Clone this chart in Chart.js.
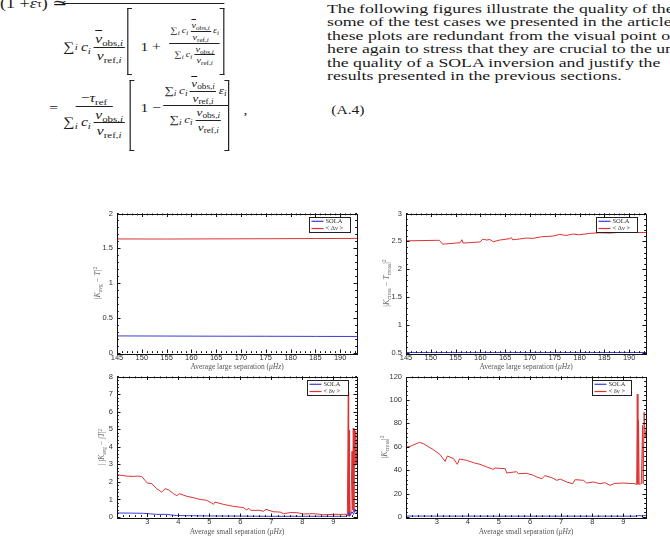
<!DOCTYPE html>
<html><head><meta charset="utf-8">
<script src="https://cdn.jsdelivr.net/npm/chart.js@4.4.1/dist/chart.umd.min.js"></script>
<style>
html,body{margin:0;padding:0;background:#fff;}
body{width:670px;height:545px;position:relative;overflow:hidden;font-family:"Liberation Serif","DejaVu Serif",serif;color:#1a1a1a;}
#eqn{position:absolute;left:0;top:0;width:300px;height:160px;transform:scaleX(1.2);transform-origin:0 0;}
.pc{position:absolute;display:flex;align-items:center;white-space:nowrap;font-size:13px;line-height:1.05;}
.bar{position:absolute;height:0;border-top:1px solid #222;}
.lb,.rb{position:absolute;width:4px;border-top:1px solid #222;border-bottom:1px solid #222;box-sizing:border-box;}
.lb{border-left:1px solid #222;}
.rb{border-right:1px solid #222;}
.ifr{display:inline-flex;flex-direction:column;align-items:center;vertical-align:middle;line-height:1.05;}
.ifr>.n{border-bottom:1px solid #222;padding:0 1px 1px;}
.ifr>.d{padding-top:1px;}
.nb{text-decoration:overline;}
sub{font-size:0.7em;vertical-align:-0.3em;line-height:0;}
sup{font-size:0.7em;vertical-align:0.5em;line-height:0;}
.txt{position:absolute;left:327px;top:3px;font-size:12.5px;line-height:13.4px;white-space:nowrap;transform:scaleX(1.42);transform-origin:0 0;}
canvas{position:absolute;}
.xt{position:absolute;font-size:7.5px;color:#555;white-space:nowrap;transform:translate(-50%,-50%);line-height:1;}
.yt{position:absolute;font-size:8px;color:#666;white-space:nowrap;transform:translate(-50%,-50%) rotate(-90deg);line-height:1;}
</style></head>
<body>
<div id="eqn">
  <!-- row 1 -->
  <div class="pc" style="left:0;top:-4px;font-size:15px">(1 + <i>ε</i><sub>τ</sub>) ≃</div>
  <div class="bar" style="left:52px;top:3px;width:135px"></div>
  <div class="pc" style="left:53px;top:27px;height:40px">∑<sub><i>i</i></sub>&thinsp;<i>c<sub>i</sub></i>&thinsp;<span class="ifr"><span class="n"><span class="nb"><i>ν</i></span><sub>obs,<i>i</i></sub></span><span class="d"><i>ν</i><sub>ref,<i>i</i></sub></span></span></div>
  <div class="lb" style="left:106px;top:8px;height:67px"></div>
  <div class="pc" style="left:117px;top:27px;height:40px">1 +</div>
  <div class="pc" style="left:141px;top:8px;height:70px;font-size:8.5px"><span class="ifr"><span class="n">∑<sub><i>i</i></sub>&thinsp;<i>c<sub>i</sub></i>&thinsp;<span class="ifr"><span class="n"><span class="nb"><i>ν</i></span><sub>obs,<i>i</i></sub></span><span class="d"><i>ν</i><sub>ref,<i>i</i></sub></span></span>&thinsp;<i>ε<sub>i</sub></i></span><span class="d">∑<sub><i>i</i></sub>&thinsp;<i>c<sub>i</sub></i>&thinsp;<span class="ifr"><span class="n"><span class="nb"><i>ν</i></span><sub>obs,<i>i</i></sub></span><span class="d"><i>ν</i><sub>ref,<i>i</i></sub></span></span></span></span></div>
  <div class="rb" style="left:183px;top:8px;height:67px"></div>
  <!-- row 2 -->
  <div class="pc" style="left:41px;top:98px;height:20px">=</div>
  <div class="pc" style="left:53px;top:91px"><span class="ifr"><span class="n">&nbsp;−<i>τ</i><sub>ref</sub>&nbsp;</span><span class="d">∑<sub><i>i</i></sub>&thinsp;<i>c<sub>i</sub></i>&thinsp;<span class="ifr"><span class="n"><span class="nb"><i>ν</i></span><sub>obs,<i>i</i></sub></span><span class="d"><i>ν</i><sub>ref,<i>i</i></sub></span></span></span></span></div>
  <div class="lb" style="left:108px;top:80px;height:71px"></div>
  <div class="pc" style="left:117px;top:98px;height:20px">1 −</div>
  <div class="pc" style="left:136px;top:78px;font-size:11px"><span class="ifr"><span class="n">∑<sub><i>i</i></sub>&thinsp;<i>c<sub>i</sub></i>&thinsp;<span class="ifr"><span class="n"><span class="nb"><i>ν</i></span><sub>obs,<i>i</i></sub></span><span class="d"><i>ν</i><sub>ref,<i>i</i></sub></span></span>&thinsp;<i>ε<sub>i</sub></i></span><span class="d">∑<sub><i>i</i></sub>&thinsp;<i>c<sub>i</sub></i>&thinsp;<span class="ifr"><span class="n"><span class="nb"><i>ν</i></span><sub>obs,<i>i</i></sub></span><span class="d"><i>ν</i><sub>ref,<i>i</i></sub></span></span></span></span></div>
  <div class="rb" style="left:187px;top:80px;height:71px"></div>
  <div class="pc" style="left:203px;top:100px;height:20px">,</div>
  <div class="pc" style="left:276px;top:100px;height:20px">(A.4)</div>
</div>
<div class="txt">The following figures illustrate the quality of the kernels<br>some of the test cases we presented in the article<br>these plots are redundant from the visual point of view<br>here again to stress that they are crucial to the understanding<br>the quality of a SOLA inversion and justify the<br>results presented in the previous sections.</div>

<canvas id="c1" width="300" height="160" style="left:67px;top:205px"></canvas>
<canvas id="c2" width="300" height="160" style="left:356px;top:205px"></canvas>
<canvas id="c3" width="300" height="161" style="left:67px;top:368px"></canvas>
<canvas id="c4" width="300" height="161" style="left:356px;top:368px"></canvas>

<div class="xt" style="left:237px;top:367px">Average large separation (<i>μHz</i>)</div>
<div class="xt" style="left:526px;top:367px">Average large separation (<i>μHz</i>)</div>
<div class="xt" style="left:237px;top:532px">Average small separation (<i>μHz</i>)</div>
<div class="xt" style="left:526px;top:532px">Average small separation (<i>μHz</i>)</div>
<div class="yt" style="left:98px;top:283px">|<i>K</i><sub>avg</sub> − <i>T</i>|<sup>2</sup></div>
<div class="yt" style="left:387px;top:283px">|<i>K</i><sub>cross</sub> − <i>T</i><sub>cross</sub>|<sup>2</sup></div>
<div class="yt" style="left:102px;top:447px;font-size:7.5px">| ∫<i>K</i><sub>avg</sub> − ∫<i>T</i>|<sup>2</sup></div>
<div class="yt" style="left:385px;top:447px">|<i>K</i><sub>cross</sub>|<sup>2</sup></div>

<script>
// ---------- tick labels ----------
const largeSepTicks = [145,150,155,160,165,170,175,180,185,190];
const smallSepTicks = [3,4,5,6,7,8,9];
const tlYTicks = [0,0.5,1,1.5,2];
const trYTicks = [0.5,1,1.5,2,2.5,3];
const blYTicks = [0,1,2,3,4,5,6,7,8];
const brYTicks = [0,20,40,60,80,100,120];
const namesLarge = ['SOLA','< Δν >'];
const namesSmall = ['SOLA','< δν >'];

// ---------- top-left ----------
const tlX    = [145,155,165,175,185,193.4];
const tlSola = [0.245,0.243,0.241,0.240,0.238,0.237];
const tlDnu  = [1.635,1.634,1.636,1.638,1.641,1.643];

// ---------- top-right ----------
const trSolaX = [145,160,175,193.4];
const trSola  = [0.508,0.508,0.509,0.509];
const trDnuX = [145,151.7,152.4,155.9,156.3,156.5,159.9,160.5,161.3,161.9,162.6,163.9,165.9,166.3,166.5,167.3,169.3,170.6,172.3,174.6,176,177.3,178.7,180,182,184,186,188,190.7,193.4];
const trDnu  = [2.51,2.52,2.45,2.476,2.53,2.47,2.49,2.54,2.524,2.536,2.494,2.524,2.548,2.565,2.53,2.536,2.56,2.554,2.583,2.595,2.625,2.607,2.631,2.619,2.643,2.655,2.649,2.661,2.66,2.66];

// ---------- bottom-left ----------
const blSolaX = [2.01,2.5,2.87,3.1,3.3,3.62,3.95,4.5,5.0,6.0,7.0,8.0,9.0,9.43,9.5,9.52,9.6,9.65,9.7,9.75];
const blSola  = [0.23,0.22,0.21,0.18,0.15,0.15,0.08,0.07,0.06,0.05,0.04,0.04,0.04,0.04,0.25,0.04,0.3,0.15,0.45,0.2];
const blDnuX = [2.01,2.33,2.55,2.7,2.82,2.92,3.0,3.14,3.3,3.46,3.57,3.68,3.84,3.95,4.03,4.27,4.48,4.7,4.91,5.07,5.13,5.18,5.45,5.77,6.1,6.2,6.27,6.33,6.63,6.74,6.82,7.06,7.28,7.39,7.6,7.82,8.03,8.35,8.68,9.0,9.32,9.45,9.48,9.49,9.51,9.52,9.56,9.6,9.62,9.64,9.66,9.68,9.7,9.72,9.75];
const blDnu  = [2.41,2.33,2.31,2.33,2.31,2.09,1.93,1.9,1.61,1.42,1.61,1.55,1.33,1.21,1.33,1.18,1.1,1.0,0.95,0.8,0.72,0.85,0.72,0.61,0.53,0.4,0.5,0.38,0.38,0.32,0.44,0.3,0.28,0.19,0.25,0.25,0.17,0.19,0.13,0.15,0.15,0.15,7.1,0.05,4.95,0.05,0.15,3.75,0.4,5.05,0.3,5.0,2.95,4.9,3.0];

// ---------- bottom-right ----------
const brSolaX = [2.01,5,9.4,9.5,9.6,9.75];
const brSola  = [0.8,0.7,0.7,1.2,0.9,1.5];
const brDnuX = [2.01,2.14,2.44,2.57,2.89,3.1,3.27,3.34,3.54,3.66,3.73,3.96,4.18,4.39,4.61,4.82,4.88,5.2,5.25,5.57,5.63,5.89,6.11,6.22,6.38,6.48,6.7,6.86,6.97,7.18,7.37,7.45,7.72,7.82,8.04,8.25,8.41,8.57,8.73,9.0,9.38,9.43,9.45,9.47,9.49,9.51,9.58,9.62,9.64,9.67,9.7,9.73];
const brDnu  = [59.7,60.3,63.7,62.6,57.5,53.5,47.5,52.1,49.8,45.0,49.5,48.4,46.4,45.0,42.7,40.7,41.8,41.3,37.6,38.7,37.0,37.3,35.6,34.1,32.7,35.3,33.6,31.3,32.4,29.9,28.4,31.9,31.3,29.0,29.9,28.4,29.3,27.0,28.7,29.0,28.4,27.6,105,28,82.5,27.9,28.4,78.2,28.5,89.6,68.3,74];

const BLUE = '#3b3bd6';
const RED  = '#dd3333';

function pts(xs, ys){ return xs.map((x,i)=>({x:x, y:ys[i]})); }

const frameTicks = {
  id:'frameTicks',
  afterDatasetsDraw(chart){
    const o = chart.options.plugins.frameTicks;
    const ctx = chart.ctx;
    const {left,right,top,bottom} = chart.chartArea;
    const xs = chart.scales.x, ys = chart.scales.y;
    ctx.save();
    ctx.strokeStyle = '#111';
    ctx.lineWidth = 1;
    ctx.beginPath();
    for (let v = o.xMinorStart; v <= xs.max + 1e-9; v += o.xMinor) {
      const p = Math.round(xs.getPixelForValue(v)) + 0.5;
      ctx.moveTo(p, bottom); ctx.lineTo(p, bottom - 1.8);
      ctx.moveTo(p, top); ctx.lineTo(p, top + 1.8);
    }
    for (let v = ys.min; v <= ys.max + 1e-9; v += o.yMinor) {
      const p = Math.round(ys.getPixelForValue(v)) + 0.5;
      ctx.moveTo(left, p); ctx.lineTo(left + 1.8, p);
      ctx.moveTo(right, p); ctx.lineTo(right - 1.8, p);
    }
    o.xTicks.forEach(v => {
      const p = Math.round(xs.getPixelForValue(v)) + 0.5;
      ctx.moveTo(p, bottom); ctx.lineTo(p, bottom - 3.5);
      ctx.moveTo(p, top); ctx.lineTo(p, top + 3.5);
    });
    o.yTicks.forEach(v => {
      const p = Math.round(ys.getPixelForValue(v)) + 0.5;
      ctx.moveTo(left, p); ctx.lineTo(left + 3.5, p);
      ctx.moveTo(right, p); ctx.lineTo(right - 3.5, p);
    });
    ctx.stroke();
    ctx.strokeRect(Math.round(left) + 0.5, Math.round(top) + 0.5, Math.round(right - left), Math.round(bottom - top));
    // legend
    const bw = o.legW, bh = 15;
    const bx = Math.round(right - o.legRight - bw) + 0.5;
    const by = Math.round(top + 3) + 0.5;
    ctx.fillStyle = '#fff';
    ctx.fillRect(bx, by, bw, bh);
    ctx.strokeStyle = '#222';
    ctx.strokeRect(bx, by, bw, bh);
    ctx.font = '6.5px "Liberation Serif", serif';
    ctx.textBaseline = 'middle';
    chart.data.datasets.forEach((ds, i) => {
      const yy = by + 3.8 + i * 7.2;
      ctx.strokeStyle = ds.borderColor;
      ctx.lineWidth = 1.2;
      ctx.beginPath(); ctx.moveTo(bx + 2, yy); ctx.lineTo(bx + 14, yy); ctx.stroke();
      ctx.fillStyle = '#333';
      ctx.fillText(ds.label, bx + 16, yy);
    });
    ctx.restore();
  }
};

function build(id, c){
  return new Chart(document.getElementById(id), {
    type:'line',
    data:{datasets:[
      {label:c.names[0], data:pts(c.solaX, c.sola), borderColor:BLUE, borderWidth:1, pointRadius:0, tension:0, fill:false},
      {label:c.names[1], data:pts(c.dnuX, c.dnu), borderColor:RED, borderWidth:1, pointRadius:0, tension:0, fill:false}
    ]},
    options:{
      responsive:false, animation:false, events:[],
      layout:{padding:{top:8, right:10, left:0, bottom:0}},
      plugins:{
        legend:{display:false}, tooltip:{enabled:false},
        frameTicks:{xTicks:c.xTicks, yTicks:c.yTicks, xMinor:c.xMinor, xMinorStart:c.xMinorStart, yMinor:c.yMinor, legW:c.legW, legRight:c.legRight}
      },
      scales:{
        x:{type:'linear', min:c.xMin, max:c.xMax,
           grid:{display:false, drawTicks:false}, border:{display:false},
           ticks:{padding:0.5, color:'#333', font:{family:'"Liberation Sans", Arial, sans-serif', size:7.5}, maxRotation:0, autoSkip:false, callback:v => String(v)},
           afterBuildTicks(s){ s.ticks = c.xTicks.map(v => ({value:v})); },
           afterFit(s){ s.height = c.xh; }},
        y:{type:'linear', min:c.yMin, max:c.yMax,
           grid:{display:false, drawTicks:false}, border:{display:false},
           ticks:{padding:4, color:'#333', font:{family:'"Liberation Sans", Arial, sans-serif', size:7.5}, autoSkip:false, callback:v => String(v)},
           afterBuildTicks(s){ s.ticks = c.yTicks.map(v => ({value:v})); },
           afterFit(s){ s.width = 50; }}
      }
    },
    plugins:[frameTicks]
  });
}

build('c1', {names:namesLarge, solaX:tlX, sola:tlSola, dnuX:tlX, dnu:tlDnu,
  xMin:145, xMax:193.4, yMin:0, yMax:2, xTicks:largeSepTicks, yTicks:tlYTicks,
  xMinor:1, xMinorStart:145, yMinor:0.1, legW:41, legRight:7, xh:12});
build('c2', {names:namesLarge, solaX:trSolaX, sola:trSola, dnuX:trDnuX, dnu:trDnu,
  xMin:145, xMax:193.4, yMin:0.5, yMax:3, xTicks:largeSepTicks, yTicks:trYTicks,
  xMinor:1, xMinorStart:145, yMinor:0.1, legW:41, legRight:9, xh:12});
build('c3', {names:namesSmall, solaX:blSolaX, sola:blSola, dnuX:blDnuX, dnu:blDnu,
  xMin:2.02, xMax:9.76, yMin:0, yMax:8, xTicks:smallSepTicks, yTicks:blYTicks,
  xMinor:0.2, xMinorStart:2.2, yMinor:0.2, legW:41, legRight:9, xh:12});
build('c4', {names:namesSmall, solaX:brSolaX, sola:brSola, dnuX:brDnuX, dnu:brDnu,
  xMin:2.01, xMax:9.73, yMin:0, yMax:120, xTicks:smallSepTicks, yTicks:brYTicks,
  xMinor:0.2, xMinorStart:2.2, yMinor:4, legW:39, legRight:15, xh:12});
</script>
</body></html>
